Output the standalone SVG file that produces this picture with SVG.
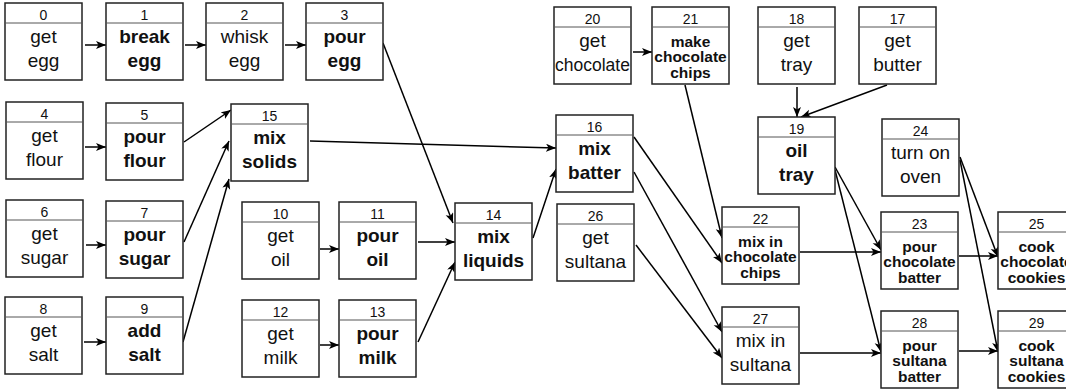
<svg xmlns="http://www.w3.org/2000/svg" width="1066" height="392" viewBox="0 0 1066 392">
<style>
  .box{fill:#fff;stroke:#222;stroke-width:1.5}
  .hdr{stroke:#555;stroke-width:1}
  .num{font-family:"Liberation Sans",Arial,sans-serif;font-size:14px;fill:#111;text-anchor:middle}
  .t{font-family:"Liberation Sans",Arial,sans-serif;font-size:19px;fill:#111;text-anchor:middle}
  .b{font-weight:bold}
  .s{font-family:"Liberation Sans",Arial,sans-serif;font-size:15.5px;font-weight:bold;fill:#111;text-anchor:middle}
  .e{stroke:#000;stroke-width:1.5;fill:none;marker-end:url(#arr)}
</style>
<defs>
  <marker id="arr" markerUnits="userSpaceOnUse" markerWidth="11" markerHeight="9" refX="10" refY="4" orient="auto">
    <path d="M0,0 L10,4 L0,8 L2.5,4 z" fill="#000"/>
  </marker>
</defs>
<rect width="1066" height="392" fill="#fff"/>
<g id="connectors">
  <line class="e" x1="85" y1="45" x2="106" y2="45"/>
  <line class="e" x1="185" y1="45" x2="206" y2="45"/>
  <line class="e" x1="285" y1="45" x2="306" y2="45"/>
  <line class="e" x1="383" y1="43" x2="453" y2="223"/>
  <line class="e" x1="85" y1="147" x2="106" y2="147"/>
  <line class="e" x1="184" y1="142" x2="231" y2="110"/>
  <line class="e" x1="86" y1="245" x2="106" y2="245"/>
  <line class="e" x1="184" y1="242" x2="229" y2="141"/>
  <line class="e" x1="84" y1="342" x2="106" y2="342"/>
  <line class="e" x1="183" y1="342" x2="229" y2="179"/>
  <line class="e" x1="310" y1="141" x2="556" y2="148"/>
  <line class="e" x1="320" y1="249" x2="339" y2="249"/>
  <line class="e" x1="418" y1="242" x2="455" y2="242"/>
  <line class="e" x1="320" y1="345" x2="339" y2="345"/>
  <line class="e" x1="418" y1="342" x2="455" y2="262"/>
  <line class="e" x1="533" y1="238" x2="556" y2="169"/>
  <line class="e" x1="633" y1="52" x2="652" y2="52"/>
  <line class="e" x1="685" y1="85" x2="722" y2="238"/>
  <line class="e" x1="634" y1="137" x2="722" y2="263"/>
  <line class="e" x1="634" y1="172" x2="722" y2="332"/>
  <line class="e" x1="636" y1="245" x2="722" y2="358"/>
  <line class="e" x1="797" y1="87" x2="797" y2="117"/>
  <line class="e" x1="887" y1="85" x2="801" y2="117"/>
  <line class="e" x1="835" y1="167" x2="881" y2="250"/>
  <line class="e" x1="835" y1="170" x2="881" y2="352"/>
  <line class="e" x1="800" y1="252" x2="881" y2="252"/>
  <line class="e" x1="800" y1="353" x2="881" y2="353"/>
  <line class="e" x1="960" y1="157" x2="998" y2="257"/>
  <line class="e" x1="960" y1="160" x2="998" y2="352"/>
  <line class="e" x1="959" y1="256" x2="998" y2="256"/>
  <line class="e" x1="959" y1="351" x2="998" y2="351"/>
</g>
<g id="n0" transform="translate(5,3)"><rect class="box" width="77" height="77"/><line class="hdr" x1="0" y1="20" x2="77" y2="20"/><text class="num" x="38.5" y="17">0</text><text class="t" x="38.5" y="40">get</text><text class="t" x="38.5" y="64">egg</text></g>
<g id="n1" transform="translate(106,3)"><rect class="box" width="77" height="77"/><line class="hdr" x1="0" y1="20" x2="77" y2="20"/><text class="num" x="38.5" y="17">1</text><text class="t b" x="38.5" y="40">break</text><text class="t b" x="38.5" y="64">egg</text></g>
<g id="n2" transform="translate(206,3)"><rect class="box" width="77" height="77"/><line class="hdr" x1="0" y1="20" x2="77" y2="20"/><text class="num" x="38.5" y="17">2</text><text class="t" x="38.5" y="40">whisk</text><text class="t" x="38.5" y="64">egg</text></g>
<g id="n3" transform="translate(306,3)"><rect class="box" width="77" height="77"/><line class="hdr" x1="0" y1="20" x2="77" y2="20"/><text class="num" x="38.5" y="17">3</text><text class="t b" x="38.5" y="40">pour</text><text class="t b" x="38.5" y="64">egg</text></g>
<g id="n4" transform="translate(6,102)"><rect class="box" width="77" height="77"/><line class="hdr" x1="0" y1="20" x2="77" y2="20"/><text class="num" x="38.5" y="17">4</text><text class="t" x="38.5" y="40">get</text><text class="t" x="38.5" y="64">flour</text></g>
<g id="n5" transform="translate(106,103)"><rect class="box" width="77" height="77"/><line class="hdr" x1="0" y1="20" x2="77" y2="20"/><text class="num" x="38.5" y="17">5</text><text class="t b" x="38.5" y="40">pour</text><text class="t b" x="38.5" y="64">flour</text></g>
<g id="n15" transform="translate(231,104)"><rect class="box" width="77" height="77"/><line class="hdr" x1="0" y1="20" x2="77" y2="20"/><text class="num" x="38.5" y="17">15</text><text class="t b" x="38.5" y="40">mix</text><text class="t b" x="38.5" y="64">solids</text></g>
<g id="n6" transform="translate(6,200)"><rect class="box" width="77" height="77"/><line class="hdr" x1="0" y1="20" x2="77" y2="20"/><text class="num" x="38.5" y="17">6</text><text class="t" x="38.5" y="40">get</text><text class="t" x="38.5" y="64">sugar</text></g>
<g id="n7" transform="translate(106,201)"><rect class="box" width="77" height="77"/><line class="hdr" x1="0" y1="20" x2="77" y2="20"/><text class="num" x="38.5" y="17">7</text><text class="t b" x="38.5" y="40">pour</text><text class="t b" x="38.5" y="64">sugar</text></g>
<g id="n10" transform="translate(242,202)"><rect class="box" width="77" height="77"/><line class="hdr" x1="0" y1="20" x2="77" y2="20"/><text class="num" x="38.5" y="17">10</text><text class="t" x="38.5" y="40">get</text><text class="t" x="38.5" y="64">oil</text></g>
<g id="n11" transform="translate(339,202)"><rect class="box" width="77" height="77"/><line class="hdr" x1="0" y1="20" x2="77" y2="20"/><text class="num" x="38.5" y="17">11</text><text class="t b" x="38.5" y="40">pour</text><text class="t b" x="38.5" y="64">oil</text></g>
<g id="n14" transform="translate(455,203)"><rect class="box" width="77" height="77"/><line class="hdr" x1="0" y1="20" x2="77" y2="20"/><text class="num" x="38.5" y="17">14</text><text class="t b" x="38.5" y="40">mix</text><text class="t b" x="38.5" y="64">liquids</text></g>
<g id="n8" transform="translate(5,297)"><rect class="box" width="77" height="77"/><line class="hdr" x1="0" y1="20" x2="77" y2="20"/><text class="num" x="38.5" y="17">8</text><text class="t" x="38.5" y="40">get</text><text class="t" x="38.5" y="64">salt</text></g>
<g id="n9" transform="translate(106,297)"><rect class="box" width="77" height="77"/><line class="hdr" x1="0" y1="20" x2="77" y2="20"/><text class="num" x="38.5" y="17">9</text><text class="t b" x="38.5" y="40">add</text><text class="t b" x="38.5" y="64">salt</text></g>
<g id="n12" transform="translate(242,300)"><rect class="box" width="77" height="77"/><line class="hdr" x1="0" y1="20" x2="77" y2="20"/><text class="num" x="38.5" y="17">12</text><text class="t" x="38.5" y="40">get</text><text class="t" x="38.5" y="64">milk</text></g>
<g id="n13" transform="translate(339,300)"><rect class="box" width="77" height="77"/><line class="hdr" x1="0" y1="20" x2="77" y2="20"/><text class="num" x="38.5" y="17">13</text><text class="t b" x="38.5" y="40">pour</text><text class="t b" x="38.5" y="64">milk</text></g>
<g id="n20" transform="translate(554,7)"><rect class="box" width="77" height="77"/><line class="hdr" x1="0" y1="20" x2="77" y2="20"/><text class="num" x="38.5" y="17">20</text><text class="t" x="38.5" y="40">get</text><text class="t" x="38.5" y="64" style="font-size:17.5px">chocolate</text></g>
<g id="n21" transform="translate(652,7)"><rect class="box" width="77" height="77"/><line class="hdr" x1="0" y1="20" x2="77" y2="20"/><text class="num" x="38.5" y="17">21</text><text class="s" x="38.5" y="39.5">make</text><text class="s" x="38.5" y="55">chocolate</text><text class="s" x="38.5" y="70.5">chips</text></g>
<g id="n18" transform="translate(758,7)"><rect class="box" width="77" height="77"/><line class="hdr" x1="0" y1="20" x2="77" y2="20"/><text class="num" x="38.5" y="17">18</text><text class="t" x="38.5" y="40">get</text><text class="t" x="38.5" y="64">tray</text></g>
<g id="n17" transform="translate(859,7)"><rect class="box" width="77" height="77"/><line class="hdr" x1="0" y1="20" x2="77" y2="20"/><text class="num" x="38.5" y="17">17</text><text class="t" x="38.5" y="40">get</text><text class="t" x="38.5" y="64">butter</text></g>
<g id="n16" transform="translate(556,115)"><rect class="box" width="77" height="77"/><line class="hdr" x1="0" y1="20" x2="77" y2="20"/><text class="num" x="38.5" y="17">16</text><text class="t b" x="38.5" y="40">mix</text><text class="t b" x="38.5" y="64">batter</text></g>
<g id="n19" transform="translate(758,117)"><rect class="box" width="77" height="77"/><line class="hdr" x1="0" y1="20" x2="77" y2="20"/><text class="num" x="38.5" y="17">19</text><text class="t b" x="38.5" y="40">oil</text><text class="t b" x="38.5" y="64">tray</text></g>
<g id="n24" transform="translate(882,119)"><rect class="box" width="77" height="77"/><line class="hdr" x1="0" y1="20" x2="77" y2="20"/><text class="num" x="38.5" y="17">24</text><text class="t" x="38.5" y="40">turn on</text><text class="t" x="38.5" y="64">oven</text></g>
<g id="n26" transform="translate(557,204)"><rect class="box" width="77" height="77"/><line class="hdr" x1="0" y1="20" x2="77" y2="20"/><text class="num" x="38.5" y="17">26</text><text class="t" x="38.5" y="40">get</text><text class="t" x="38.5" y="64">sultana</text></g>
<g id="n22" transform="translate(722,207)"><rect class="box" width="77" height="77"/><line class="hdr" x1="0" y1="20" x2="77" y2="20"/><text class="num" x="38.5" y="17">22</text><text class="s" x="38.5" y="39.5">mix in</text><text class="s" x="38.5" y="55">chocolate</text><text class="s" x="38.5" y="70.5">chips</text></g>
<g id="n23" transform="translate(881,212)"><rect class="box" width="77" height="77"/><line class="hdr" x1="0" y1="20" x2="77" y2="20"/><text class="num" x="38.5" y="17">23</text><text class="s" x="38.5" y="39.5">pour</text><text class="s" x="38.5" y="55">chocolate</text><text class="s" x="38.5" y="70.5">batter</text></g>
<g id="n25" transform="translate(998,212)"><rect class="box" width="77" height="77"/><line class="hdr" x1="0" y1="20" x2="77" y2="20"/><text class="num" x="38.5" y="17">25</text><text class="s" x="38.5" y="39.5">cook</text><text class="s" x="38.5" y="55">chocolate</text><text class="s" x="38.5" y="70.5">cookies</text></g>
<g id="n27" transform="translate(722,307)"><rect class="box" width="77" height="77"/><line class="hdr" x1="0" y1="20" x2="77" y2="20"/><text class="num" x="38.5" y="17">27</text><text class="t" x="38.5" y="40">mix in</text><text class="t" x="38.5" y="64">sultana</text></g>
<g id="n28" transform="translate(881,311)"><rect class="box" width="77" height="77"/><line class="hdr" x1="0" y1="20" x2="77" y2="20"/><text class="num" x="38.5" y="17">28</text><text class="s" x="38.5" y="39.5">pour</text><text class="s" x="38.5" y="55">sultana</text><text class="s" x="38.5" y="70.5">batter</text></g>
<g id="n29" transform="translate(998,311)"><rect class="box" width="77" height="77"/><line class="hdr" x1="0" y1="20" x2="77" y2="20"/><text class="num" x="38.5" y="17">29</text><text class="s" x="38.5" y="39.5">cook</text><text class="s" x="38.5" y="55">sultana</text><text class="s" x="38.5" y="70.5">cookies</text></g>
</svg>
